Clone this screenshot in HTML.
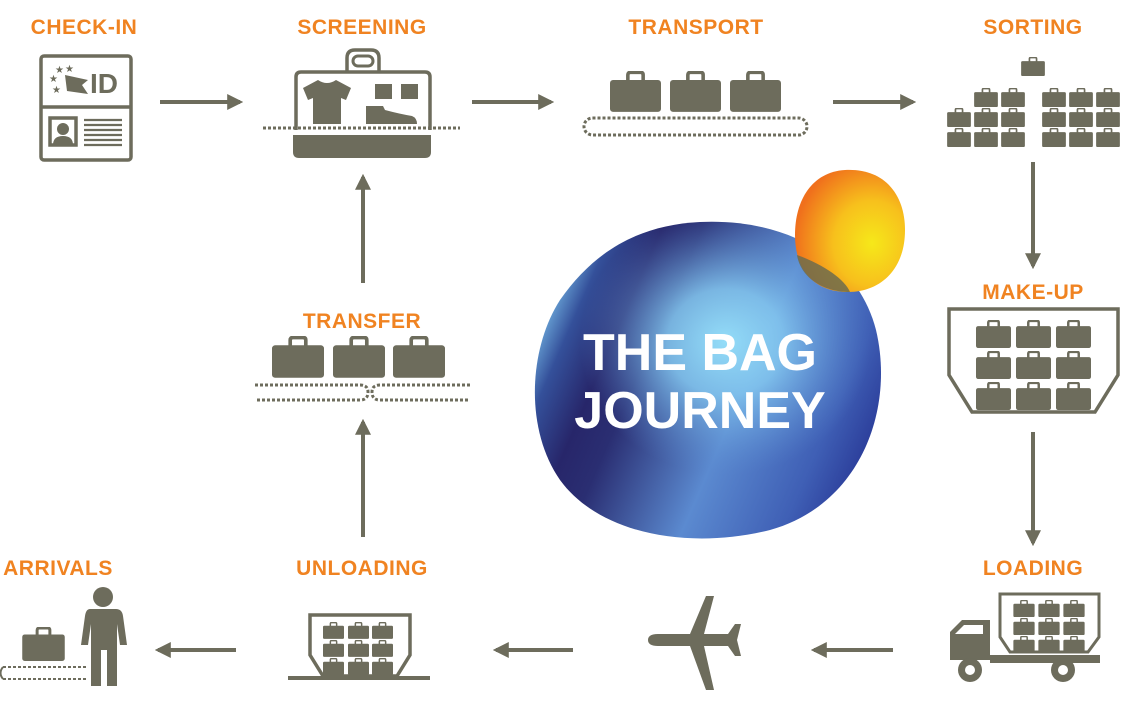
<!DOCTYPE html>
<html><head><style>
html,body{margin:0;padding:0;background:#fff;width:1122px;height:706px;overflow:hidden}
svg{display:block}
.l{font-family:"Liberation Sans",sans-serif;font-weight:bold;font-size:21px;fill:#f08321;text-anchor:middle;letter-spacing:0.5px}
</style></head><body>
<svg width="1122" height="706" viewBox="0 0 1122 706">
<defs>
<symbol id="b" viewBox="0 0 20 16"><path d="M7 4V1.5Q7 0.5 8 0.5H12Q13 0.5 13 1.5V4" fill="none" stroke="#6d6c5c" stroke-width="1.4"/><rect x="0" y="3.5" width="20" height="12.5" rx="1.2" fill="#6d6c5c"/></symbol>
<marker id="a" viewBox="0 0 10 10" refX="8" refY="5" markerWidth="4" markerHeight="4" orient="auto"><path d="M0 0L10 5L0 10z" fill="#6d6c5c"/></marker>
<linearGradient id="g0" x1="0" y1="0.3" x2="1" y2="0.7">
<stop offset="0" stop-color="#7cc2ec"/><stop offset="0.1" stop-color="#34509a"/><stop offset="0.22" stop-color="#27266a"/><stop offset="0.32" stop-color="#2a2e72"/><stop offset="0.6" stop-color="#5b8ad0"/><stop offset="0.85" stop-color="#3f5fb5"/><stop offset="1" stop-color="#283795"/></linearGradient>
<radialGradient id="g1" cx="0.55" cy="0.38" r="0.42">
<stop offset="0" stop-color="#94ddf8" stop-opacity="1"/><stop offset="0.4" stop-color="#84c8f0" stop-opacity="0.85"/><stop offset="1" stop-color="#5a8ad0" stop-opacity="0"/></radialGradient>
<radialGradient id="g2" cx="0.7" cy="0.6" r="0.7"><stop offset="0" stop-color="#f6e81a"/><stop offset="0.5" stop-color="#f7c01c"/><stop offset="1" stop-color="#f0701c"/></radialGradient>
</defs>
<g stroke="#6d6c5c" stroke-width="4" fill="none" marker-end="url(#a)">
<line x1="160" y1="102" x2="240" y2="102"/><line x1="472" y1="102" x2="551" y2="102"/><line x1="833" y1="102" x2="913" y2="102"/>
<line x1="1033" y1="162" x2="1033" y2="266"/><line x1="1033" y1="432" x2="1033" y2="543"/>
<line x1="363" y1="283" x2="363" y2="177"/><line x1="363" y1="537" x2="363" y2="422"/>
<line x1="893" y1="650" x2="814" y2="650"/><line x1="573" y1="650" x2="496" y2="650"/><line x1="236" y1="650" x2="158" y2="650"/>
</g>
<text class="l" x="84" y="34">CHECK-IN</text>
<text class="l" x="362" y="34">SCREENING</text>
<text class="l" x="696" y="34">TRANSPORT</text>
<text class="l" x="1033" y="34">SORTING</text>
<text class="l" x="1033" y="299">MAKE-UP</text>
<text class="l" x="362" y="328">TRANSFER</text>
<text class="l" x="58" y="575">ARRIVALS</text>
<text class="l" x="362" y="575">UNLOADING</text>
<text class="l" x="1033" y="575">LOADING</text>
<g fill="none" stroke="#6d6c5c" stroke-width="3.5">
<rect x="41" y="56" width="90" height="104" rx="3"/><line x1="41" y1="107" x2="131" y2="107"/>
<rect x="50" y="118" width="26" height="27"/></g>
<circle cx="63" cy="129" r="6" fill="#6d6c5c"/><path d="M53 145Q53 136 63 136Q73 136 73 145z" fill="#6d6c5c"/>
<g stroke="#6d6c5c" stroke-width="2.2"><line x1="84" y1="120" x2="122" y2="120"/><line x1="84" y1="125" x2="122" y2="125"/><line x1="84" y1="130" x2="122" y2="130"/><line x1="84" y1="135" x2="122" y2="135"/><line x1="84" y1="140" x2="122" y2="140"/><line x1="84" y1="145" x2="122" y2="145"/></g>
<text x="90" y="93" font-family="Liberation Sans,sans-serif" font-weight="bold" font-size="28" fill="#6d6c5c">ID</text>
<path d="M65 75L88 80L82 85L88 94L67 91z" fill="#6d6c5c"/>
<g fill="#6d6c5c" font-size="10" font-family="DejaVu Sans,sans-serif"><text x="49" y="82">★</text><text x="55" y="73">★</text><text x="65" y="72">★</text><text x="52" y="93">★</text></g>
<path d="M296 130V77Q296 72 301 72H425Q430 72 430 77V130" fill="none" stroke="#6d6c5c" stroke-width="3.5"/>
<path d="M347 72V58Q347 50 355 50H371Q379 50 379 58V72" fill="none" stroke="#6d6c5c" stroke-width="3.5"/>
<rect x="353" y="56" width="20" height="10" rx="5" fill="none" stroke="#6d6c5c" stroke-width="3"/>
<path d="M293 135H431V152Q431 158 425 158H299Q293 158 293 152z" fill="#6d6c5c"/>
<path d="M303 88L318 80Q327 86 336 80L351 88L346 100L341 98V124H313V98L308 100z" fill="#6d6c5c"/>
<rect x="375" y="84" width="17" height="15" fill="#6d6c5c"/><rect x="401" y="84" width="17" height="15" fill="#6d6c5c"/>
<path d="M366 106H383L385 110Q400 114 412 116Q417 118 417 124H366z" fill="#6d6c5c"/>
<line x1="263" y1="128" x2="460" y2="128" stroke="#6d6c5c" stroke-width="3" stroke-dasharray="3 2"/>
<use href="#b" x="610" y="71" width="51" height="41"/><use href="#b" x="670" y="71" width="51" height="41"/><use href="#b" x="730" y="71" width="51" height="41"/>
<rect x="584" y="118" width="223" height="17" rx="8.5" fill="none" stroke="#6d6c5c" stroke-width="3" stroke-dasharray="3 2"/>
<use href="#b" x="1021" y="57" width="24" height="19"/>
<g>
<use href="#b" x="974" y="88" width="24" height="19"/><use href="#b" x="1001" y="88" width="24" height="19"/>
<use href="#b" x="1042" y="88" width="24" height="19"/><use href="#b" x="1069" y="88" width="24" height="19"/><use href="#b" x="1096" y="88" width="24" height="19"/>
<use href="#b" x="947" y="108" width="24" height="19"/><use href="#b" x="974" y="108" width="24" height="19"/><use href="#b" x="1001" y="108" width="24" height="19"/>
<use href="#b" x="1042" y="108" width="24" height="19"/><use href="#b" x="1069" y="108" width="24" height="19"/><use href="#b" x="1096" y="108" width="24" height="19"/>
<use href="#b" x="947" y="128" width="24" height="19"/><use href="#b" x="974" y="128" width="24" height="19"/><use href="#b" x="1001" y="128" width="24" height="19"/>
<use href="#b" x="1042" y="128" width="24" height="19"/><use href="#b" x="1069" y="128" width="24" height="19"/><use href="#b" x="1096" y="128" width="24" height="19"/>
</g>
<path d="M949 309H1118V375L1095 412H972L949 375z" fill="none" stroke="#6d6c5c" stroke-width="3.5"/>
<g>
<use href="#b" x="976" y="320" width="35" height="28"/><use href="#b" x="1016" y="320" width="35" height="28"/><use href="#b" x="1056" y="320" width="35" height="28"/>
<use href="#b" x="976" y="351" width="35" height="28"/><use href="#b" x="1016" y="351" width="35" height="28"/><use href="#b" x="1056" y="351" width="35" height="28"/>
<use href="#b" x="976" y="382" width="35" height="28"/><use href="#b" x="1016" y="382" width="35" height="28"/><use href="#b" x="1056" y="382" width="35" height="28"/>
</g>
<use href="#b" x="272" y="336" width="52" height="42"/><use href="#b" x="333" y="336" width="52" height="42"/><use href="#b" x="393" y="336" width="52" height="42"/>
<g stroke="#6d6c5c" stroke-width="3" stroke-dasharray="3 2" fill="none">
<path d="M255 385H360Q368 385 368 392Q368 400 360 400H255"/><path d="M470 385H380Q372 385 372 392Q372 400 380 400H470"/></g>
<path id="bl" d="M700 222C790 218 858 260 876 330C895 410 860 505 770 530C690 550 600 535 560 480C525 430 528 350 560 300C595 250 640 225 700 222z" fill="url(#g0)"/>
<path d="M700 222C790 218 858 260 876 330C895 410 860 505 770 530C690 550 600 535 560 480C525 430 528 350 560 300C595 250 640 225 700 222z" fill="url(#g1)"/>
<path d="M845 170C885 168 905 195 905 230C905 270 880 292 848 292C812 292 795 268 795 235C795 200 812 172 845 170z" fill="url(#g2)"/>
<path d="M797 255C825 265 845 280 850 292C820 292 800 275 797 255z" fill="#6d6c4c" opacity="0.85"/>
<text x="700" y="370" font-family="Liberation Sans,sans-serif" font-weight="bold" font-size="52" fill="#fff" text-anchor="middle">THE BAG</text>
<text x="700" y="428" font-family="Liberation Sans,sans-serif" font-weight="bold" font-size="52" fill="#fff" text-anchor="middle">JOURNEY</text>
<path d="M648 640Q648 634 658 634L690 634L706 596H714L704 634L728 634L735 624H741L737 640L741 656H735L728 646L704 646L714 690H706L690 646L658 646Q648 646 648 640z" fill="#6d6c5c"/>
<path d="M950 660V632L962 620H990V660z" fill="#6d6c5c"/><path d="M955 634L964 625H983V634z" fill="#fff"/>
<rect x="990" y="655" width="110" height="8" fill="#6d6c5c"/>
<path d="M1000 594H1099V637L1088 652H1010L1000 637z" fill="none" stroke="#6d6c5c" stroke-width="3"/>
<g>
<use href="#b" x="1013" y="600" width="22" height="17"/><use href="#b" x="1038" y="600" width="22" height="17"/><use href="#b" x="1063" y="600" width="22" height="17"/>
<use href="#b" x="1013" y="618" width="22" height="17"/><use href="#b" x="1038" y="618" width="22" height="17"/><use href="#b" x="1063" y="618" width="22" height="17"/>
<use href="#b" x="1013" y="636" width="22" height="17"/><use href="#b" x="1038" y="636" width="22" height="17"/><use href="#b" x="1063" y="636" width="22" height="17"/>
</g>
<circle cx="970" cy="670" r="12" fill="#6d6c5c"/><circle cx="970" cy="670" r="5" fill="#fff"/>
<circle cx="1063" cy="670" r="12" fill="#6d6c5c"/><circle cx="1063" cy="670" r="5" fill="#fff"/>
<path d="M310 615H410V655L397 676H323L310 655z" fill="none" stroke="#6d6c5c" stroke-width="3.5"/>
<line x1="288" y1="678" x2="430" y2="678" stroke="#6d6c5c" stroke-width="4"/>
<g>
<use href="#b" x="323" y="622" width="21" height="17"/><use href="#b" x="348" y="622" width="21" height="17"/><use href="#b" x="372" y="622" width="21" height="17"/>
<use href="#b" x="323" y="640" width="21" height="17"/><use href="#b" x="348" y="640" width="21" height="17"/><use href="#b" x="372" y="640" width="21" height="17"/>
<use href="#b" x="323" y="658" width="21" height="17"/><use href="#b" x="348" y="658" width="21" height="17"/><use href="#b" x="372" y="658" width="21" height="17"/>
</g>
<use href="#b" x="22" y="627" width="43" height="34"/>
<path d="M3 667H88M3 679H88" stroke="#6d6c5c" stroke-width="2" stroke-dasharray="3 2"/>
<path d="M3 667Q-2 673 3 679" stroke="#6d6c5c" stroke-width="2" fill="none"/>
<circle cx="103" cy="597" r="10" fill="#6d6c5c"/>
<path d="M90 609H116Q122 609 123 616L127 645H120L117 624V686H107V650H101V686H91V624L88 645H81L85 616Q86 609 90 609z" fill="#6d6c5c"/>
</svg>
</body></html>
